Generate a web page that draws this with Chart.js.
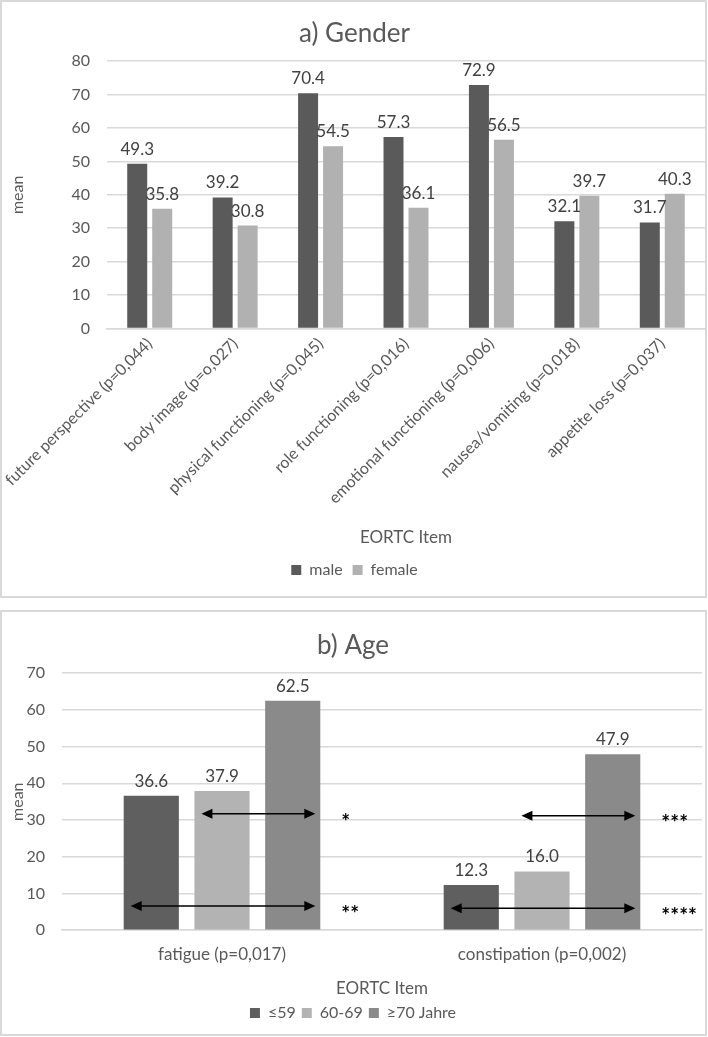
<!DOCTYPE html>
<html>
<head>
<meta charset="utf-8">
<script src="https://cdn.jsdelivr.net/npm/chart.js@4"></script>
<style>
  body { margin: 0; background: #fff; }
  .box { position: absolute; left: 0; width: 703px; border: 2px solid #d9d9d9; background: #fff; }
  #boxA { top: 0; height: 594px; }
  #boxB { top: 610px; height: 422px; }
  canvas { display: block; }
</style>
</head>
<body>
<div class="box" id="boxA"><canvas id="gender" width="703" height="594"></canvas></div>
<div class="box" id="boxB"><canvas id="age" width="703" height="422"></canvas></div>
<script>
// a) Gender
const genderItems = [
  'future perspective (p=0,044)',
  'body image (p=o,027)',
  'physical functioning (p=0,045)',
  'role functioning (p=0,016)',
  'emotional functioning (p=0,006)',
  'nausea/vomiting (p=0,018)',
  'appetite loss (p=0,037)'
];
const maleMeans = [49.3, 39.2, 70.4, 57.3, 72.9, 32.1, 31.7];
const femaleMeans = [35.8, 30.8, 54.5, 36.1, 56.5, 39.7, 40.3];

// b) Age
const ageItems = ['fatigue (p=0,017)', 'constipation (p=0,002)'];
const ageGroups = ['≤59', '60-69', '≥70 Jahre'];
const ageUpTo59 = [36.6, 12.3];
const age60to69 = [37.9, 16.0];
const age70plus = [62.5, 47.9];
// significance arrows: item index, from group, to group, height (mean), stars
const ageComparisons = [
  { item: 0, from: 1, to: 2, at: 31.7, mark: '*' },
  { item: 0, from: 0, to: 2, at: 6.6, mark: '**' },
  { item: 1, from: 1, to: 2, at: 31.2, mark: '***' },
  { item: 1, from: 0, to: 2, at: 6.0, mark: '****' }
];

const grey = '#595959';
const gridGrey = '#d9d9d9';
Chart.defaults.font.family = 'Lato';
Chart.defaults.color = grey;
Chart.defaults.animation = false;

// value labels above each bar
const valueLabels = {
  id: 'valueLabels',
  afterDatasetsDraw(chart) {
    const ctx = chart.ctx;
    ctx.save();
    ctx.font = '17px Lato';
    ctx.fillStyle = '#404040';
    ctx.textAlign = 'center';
    ctx.textBaseline = 'bottom';
    chart.data.datasets.forEach((ds, i) => {
      chart.getDatasetMeta(i).data.forEach((bar, j) => {
        ctx.fillText(ds.data[j].toFixed(1), bar.x, bar.y - 6);
      });
    });
    ctx.restore();
  }
};

// double arrows with stars for chart b
const sigArrows = {
  id: 'sigArrows',
  afterDatasetsDraw(chart) {
    const ctx = chart.ctx;
    const y = chart.scales.y;
    ctx.save();
    ageComparisons.forEach(c => {
      const a = chart.getDatasetMeta(c.from).data[c.item];
      const b = chart.getDatasetMeta(c.to).data[c.item];
      const x1 = a.x - a.width / 2 + 7;
      const x2 = b.x + b.width / 2 - 5;
      const py = y.getPixelForValue(c.at);
      ctx.strokeStyle = '#000';
      ctx.fillStyle = '#000';
      ctx.lineWidth = 1.5;
      ctx.beginPath();
      ctx.moveTo(x1 + 8, py);
      ctx.lineTo(x2 - 8, py);
      ctx.stroke();
      ctx.beginPath();
      ctx.moveTo(x1, py);
      ctx.lineTo(x1 + 11, py - 5);
      ctx.lineTo(x1 + 11, py + 5);
      ctx.closePath();
      ctx.fill();
      ctx.beginPath();
      ctx.moveTo(x2, py);
      ctx.lineTo(x2 - 11, py - 5);
      ctx.lineTo(x2 - 11, py + 5);
      ctx.closePath();
      ctx.fill();
      ctx.font = 'bold 21px Lato';
      ctx.textAlign = 'left';
      ctx.textBaseline = 'middle';
      ctx.fillText(c.mark, x2 + 26, py + 8);
    });
    ctx.restore();
  }
};

new Chart(document.getElementById('gender'), {
  type: 'bar',
  data: {
    labels: genderItems,
    datasets: [
      { label: 'male', data: maleMeans, backgroundColor: '#5a5a5a' },
      { label: 'female', data: femaleMeans, backgroundColor: '#b1b1b1' }
    ]
  },
  options: {
    responsive: false,
    categoryPercentage: 0.585,
    barPercentage: 0.8,
    layout: { padding: { left: 2, right: 0, top: 6, bottom: 8 } },
    plugins: {
      title: { display: true, text: 'a) Gender', color: grey, font: { size: 26, weight: 'normal' }, padding: { top: 10, bottom: 12 } },
      legend: { position: 'bottom', labels: { boxWidth: 10, boxHeight: 10, color: grey, font: { size: 16 }, padding: 10 } },
      tooltip: { enabled: false }
    },
    scales: {
      x: {
        grid: { display: false, drawTicks: false },
        border: { color: gridGrey, width: 1.5 },
        ticks: { color: grey, font: { size: 16 }, minRotation: 45, maxRotation: 45, autoSkip: false, padding: 6 },
        title: { display: true, text: 'EORTC Item', color: grey, font: { size: 17 }, padding: { top: 14, bottom: 4 } },
        afterFit(s) { s.paddingLeft = 0; s.paddingRight = 0; }
      },
      y: {
        min: 0, max: 80,
        ticks: { stepSize: 10, color: grey, font: { size: 16 }, padding: 17 },
        grid: { color: gridGrey, lineWidth: 1.5, drawTicks: false },
        border: { display: false },
        title: { display: true, text: 'mean', color: grey, font: { size: 16 } },
        afterFit(s) { s.width = 103; }
      }
    }
  },
  plugins: [valueLabels]
});

new Chart(document.getElementById('age'), {
  type: 'bar',
  data: {
    labels: ageItems,
    datasets: [
      { label: ageGroups[0], data: ageUpTo59, backgroundColor: '#5f5f5f' },
      { label: ageGroups[1], data: age60to69, backgroundColor: '#b3b3b3' },
      { label: ageGroups[2], data: age70plus, backgroundColor: '#8a8a8a' }
    ]
  },
  options: {
    responsive: false,
    categoryPercentage: 0.663,
    barPercentage: 0.78,
    layout: { padding: { left: 2, right: 3, top: 6, bottom: 3 } },
    plugins: {
      title: { display: true, text: 'b) Age', color: grey, font: { size: 26, weight: 'normal' }, padding: { top: 12, bottom: 12 } },
      legend: { position: 'bottom', labels: { boxWidth: 10, boxHeight: 10, color: grey, font: { size: 16 }, padding: 6 } },
      tooltip: { enabled: false }
    },
    scales: {
      x: {
        grid: { display: false, drawTicks: false },
        border: { color: gridGrey, width: 1.5 },
        ticks: { color: grey, font: { size: 17 }, padding: 14 },
        title: { display: true, text: 'EORTC Item', color: grey, font: { size: 17 }, padding: { top: 0, bottom: 0 } }
      },
      y: {
        min: 0, max: 70,
        ticks: { stepSize: 10, color: grey, font: { size: 16 }, padding: 17 },
        grid: { color: gridGrey, lineWidth: 1.5, drawTicks: false },
        border: { display: false },
        title: { display: true, text: 'mean', color: grey, font: { size: 16 } },
        afterFit(s) { s.width = 58; }
      }
    }
  },
  plugins: [valueLabels, sigArrows]
});
</script>
</body>
</html>
